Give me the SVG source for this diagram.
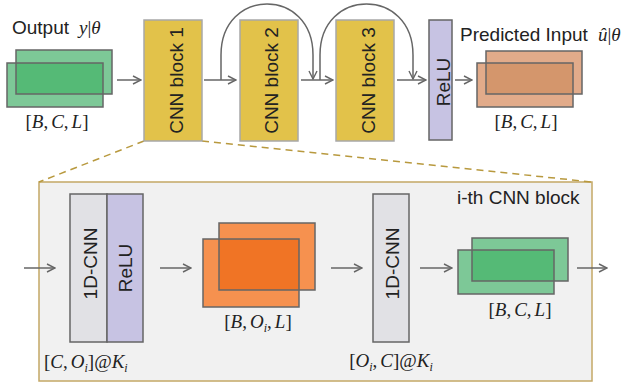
<svg xmlns="http://www.w3.org/2000/svg" width="626" height="383" viewBox="0 0 626 383">
<defs>
<marker id="ah" viewBox="0 0 10 10" refX="9" refY="5" markerWidth="10" markerHeight="10" markerUnits="userSpaceOnUse" orient="auto">
<path d="M1,1 L9,5 L1,9" fill="none" stroke="#666" stroke-width="1.4"/>
</marker>
<style>
.sans{font-family:"Liberation Sans",Arial,sans-serif;font-size:19px;fill:#222}
.math{font-family:"Liberation Serif","Times New Roman",serif;font-size:19px;fill:#222}
.it{font-style:italic}
.sub{font-size:12px;font-style:italic}
.conn{fill:none;stroke:#666;stroke-width:1.5}
.blk{fill:#e2c24a;stroke:#a8a8a8;stroke-width:1.5}
.relu{fill:#c7c3e3;stroke:#666;stroke-width:1.5}
.cnn{fill:#e1e1e5;stroke:#666;stroke-width:1.5}
.edge{fill:none;stroke:#666;stroke-width:1.5}
.gl{fill:#7dc897}.gd{fill:#55ba76}
.ol{fill:#e2ab8a}.od{fill:#d4966c}
.bl{fill:#f6914f}.bd{fill:#f07425}
.dash{fill:none;stroke:#b8993e;stroke-width:1.5;stroke-dasharray:7,5}
</style>
</defs>
<rect width="626" height="383" fill="#fff"/>

<g id="detail-box">
<rect x="39" y="182" width="553" height="199" fill="#f1f1f1" stroke="#c4a866" stroke-width="1.5"/>
<text class="sans" x="457" y="204">i-th CNN block</text>
</g>
<g id="zoom-lines">
<line class="dash" x1="144" y1="141" x2="39" y2="182"/>
<line class="dash" x1="202" y1="141" x2="592" y2="182"/>
</g>

<g id="output-tensor">
<text class="sans" x="12" y="34">Output</text>
<text class="math" x="79" y="34" font-size="20"><tspan class="it">y</tspan>|<tspan class="it">θ</tspan></text>
<rect class="gl" x="16" y="50" width="96" height="44"/>
<rect class="gl" x="7" y="63" width="96" height="44"/>
<rect class="gd" x="16" y="63" width="87" height="31"/>
<rect class="edge" x="16" y="50" width="96" height="44"/>
<rect class="edge" x="7" y="63" width="96" height="44"/>
<text class="math" x="57" y="128" text-anchor="middle">[<tspan class="it">B</tspan>,<tspan class="it" dx="3">C</tspan>,<tspan class="it" dx="3">L</tspan>]</text>
</g>

<g id="cnn-block-1">
<rect class="blk" x="144" y="20" width="58" height="121"/>
<text class="sans" transform="translate(183,80.5) rotate(-90)" text-anchor="middle">CNN block 1</text>
</g>
<g id="cnn-block-2">
<rect class="blk" x="240" y="20" width="58" height="121"/>
<text class="sans" transform="translate(278,80.5) rotate(-90)" text-anchor="middle">CNN block 2</text>
</g>
<g id="cnn-block-3">
<rect class="blk" x="336" y="20" width="58" height="121"/>
<text class="sans" transform="translate(374.5,80.5) rotate(-90)" text-anchor="middle">CNN block 3</text>
</g>
<g id="relu-top">
<rect class="relu" x="429" y="20" width="23" height="120"/>
<text class="sans" transform="translate(449.5,82) rotate(-90)" text-anchor="middle">ReLU</text>
</g>

<g id="predicted-tensor">
<text class="sans" x="460" y="41">Predicted Input</text>
<text class="math" x="598" y="41" font-size="20"><tspan class="it">û</tspan>|<tspan class="it">θ</tspan></text>
<rect class="ol" x="486" y="51" width="96" height="43"/>
<rect class="ol" x="477" y="63" width="96" height="44"/>
<rect class="od" x="486" y="63" width="87" height="31"/>
<rect class="edge" x="486" y="51" width="96" height="43"/>
<rect class="edge" x="477" y="63" width="96" height="44"/>
<text class="math" x="526" y="128" text-anchor="middle">[<tspan class="it">B</tspan>,<tspan class="it" dx="3">C</tspan>,<tspan class="it" dx="3">L</tspan>]</text>
</g>

<g id="conv-relu-1">
<rect class="cnn" x="70" y="194" width="37" height="148"/>
<rect class="relu" x="107" y="194" width="36" height="148"/>
<text class="sans" transform="translate(97,263.5) rotate(-90)" text-anchor="middle">1D-CNN</text>
<text class="sans" transform="translate(132,268) rotate(-90)" text-anchor="middle">ReLU</text>
<text class="math" x="44" y="368">[<tspan class="it">C</tspan>,<tspan class="it" dx="3">O</tspan><tspan class="sub" dy="4">i</tspan><tspan dy="-4">]@</tspan><tspan class="it">K</tspan><tspan class="sub" dy="4">i</tspan></text>
</g>
<g id="hidden-tensor">
<rect class="bl" x="219" y="223" width="96" height="67"/>
<rect class="bl" x="203" y="239" width="96" height="68"/>
<rect class="bd" x="219" y="239" width="80" height="51"/>
<rect class="edge" x="219" y="223" width="96" height="67"/>
<rect class="edge" x="203" y="239" width="96" height="68"/>
<text class="math" x="258" y="328" text-anchor="middle">[<tspan class="it">B</tspan>,<tspan class="it" dx="3">O</tspan><tspan class="sub" dy="4">i</tspan><tspan dy="-4">,</tspan><tspan class="it" dx="3">L</tspan>]</text>
</g>
<g id="conv-2">
<rect class="cnn" x="373" y="194" width="36" height="148"/>
<text class="sans" transform="translate(399,263.5) rotate(-90)" text-anchor="middle">1D-CNN</text>
<text class="math" x="391" y="367" text-anchor="middle">[<tspan class="it">O</tspan><tspan class="sub" dy="4">i</tspan><tspan dy="-4">,</tspan><tspan class="it" dx="3">C</tspan>]@<tspan class="it">K</tspan><tspan class="sub" dy="4">i</tspan></text>
</g>
<g id="block-output-tensor">
<rect class="gl" x="472" y="238" width="96" height="43"/>
<rect class="gl" x="458" y="250" width="96" height="44"/>
<rect class="gd" x="472" y="250" width="82" height="31"/>
<rect class="edge" x="472" y="238" width="96" height="43"/>
<rect class="edge" x="458" y="250" width="96" height="44"/>
<text class="math" x="520" y="316" text-anchor="middle">[<tspan class="it">B</tspan>,<tspan class="it" dx="3">C</tspan>,<tspan class="it" dx="3">L</tspan>]</text>
</g>

<g id="connectors">
<line class="conn" x1="117" y1="80" x2="141" y2="80" marker-end="url(#ah)"/>
<line class="conn" x1="204" y1="80" x2="236" y2="80" marker-end="url(#ah)"/>
<line class="conn" x1="301" y1="80" x2="333" y2="80" marker-end="url(#ah)"/>
<line class="conn" x1="397" y1="80" x2="426" y2="80" marker-end="url(#ah)"/>
<line class="conn" x1="455" y1="80" x2="472" y2="80" marker-end="url(#ah)"/>
<path class="conn" d="M221,80 V55 C221,-13 313,-13 313,55 V79" marker-end="url(#ah)"/>
<path class="conn" d="M320,80 V55 C320,-13 413,-13 413,55 V79" marker-end="url(#ah)"/>
<line class="conn" x1="24" y1="268" x2="55" y2="268" marker-end="url(#ah)"/>
<line class="conn" x1="160" y1="268" x2="191" y2="268" marker-end="url(#ah)"/>
<line class="conn" x1="331" y1="268" x2="362" y2="268" marker-end="url(#ah)"/>
<line class="conn" x1="420" y1="268" x2="452" y2="268" marker-end="url(#ah)"/>
<line class="conn" x1="577" y1="268" x2="607" y2="268" marker-end="url(#ah)"/>
</g>
</svg>
